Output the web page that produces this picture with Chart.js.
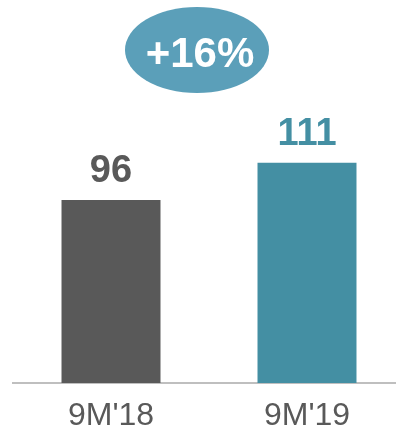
<!DOCTYPE html>
<html>
<head>
<meta charset="utf-8">
<script src="https://cdn.jsdelivr.net/npm/chart.js@4.4.0/dist/chart.umd.min.js"></script>
<style>
  html, body { margin: 0; padding: 0; background: #fff; overflow: hidden; }
  #wrap { width: 396px; height: 432px; overflow: hidden; }
</style>
</head>
<body>
<div id="wrap"><canvas id="c" width="410" height="441"></canvas></div>
<script>
const categories = ["9M'18", "9M'19"];
const values = [96, 111];
const barColors = ['#595959', '#448FA3'];
const labelColors = ['#595959', '#448FA3'];
const growthLabel = '+16%';

const FONT = '"Liberation Sans", Arial, sans-serif';

// value labels above each bar
const valueLabels = {
  id: 'valueLabels',
  afterDatasetsDraw(chart) {
    const ctx = chart.ctx;
    const meta = chart.getDatasetMeta(0);
    ctx.save();
    ctx.font = 'bold 38px ' + FONT;
    ctx.textAlign = 'center';
    ctx.textBaseline = 'alphabetic';
    meta.data.forEach((bar, i) => {
      ctx.fillStyle = labelColors[i];
      ctx.fillText(String(values[i]), bar.x, bar.y - 18);
    });
    ctx.restore();
  }
};

// growth bubble
const growthBubble = {
  id: 'growthBubble',
  afterDraw(chart) {
    const ctx = chart.ctx;
    const cx = chart.chartArea.left + 184;
    const cy = 50;
    ctx.save();
    ctx.fillStyle = '#5B9FB9';
    ctx.beginPath();
    ctx.ellipse(cx, cy, 72, 43, 0, 0, Math.PI * 2);
    ctx.fill();
    ctx.fillStyle = '#fff';
    ctx.font = 'bold 42px ' + FONT;
    ctx.textAlign = 'center';
    ctx.textBaseline = 'alphabetic';
    ctx.fillText(growthLabel, cx + 3, cy + 17);
    ctx.restore();
  }
};

new Chart(document.getElementById('c'), {
  type: 'bar',
  data: {
    labels: categories,
    datasets: [{
      data: values,
      backgroundColor: barColors,
      borderWidth: 0,
      barPercentage: 0.505,
      categoryPercentage: 1
    }]
  },
  options: {
    responsive: false,
    animation: false,
    layout: { padding: { top: 91, left: 13, right: 5, bottom: 0 } },
    plugins: { legend: { display: false }, tooltip: { enabled: false } },
    scales: {
      x: {
        grid: { display: false },
        border: { display: true, color: '#BFBFBF', width: 2 },
        ticks: {
          color: '#595959',
          font: { family: FONT, size: 32, lineHeight: 1 },
          padding: 9
        }
      },
      y: {
        display: false,
        min: 22,
        max: 140
      }
    }
  },
  plugins: [valueLabels, growthBubble]
});
</script>
</body>
</html>
